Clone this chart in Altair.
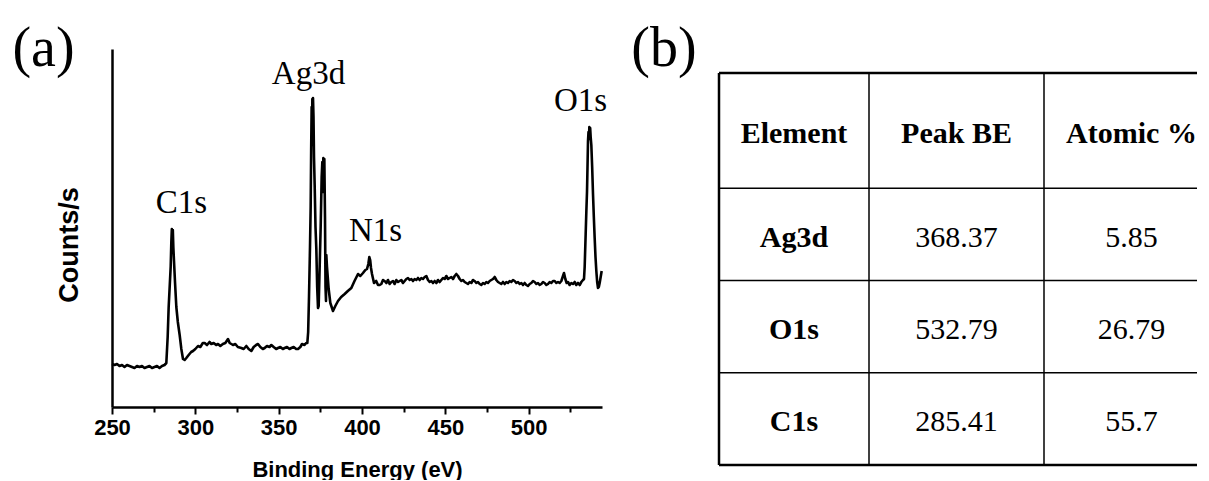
import altair as alt
import pandas as pd

# ---------------- (a) XPS survey spectrum ----------------
energy_ev = [
    250.0, 251.5, 253.0, 254.5, 256.0, 257.5, 259.0, 260.5, 262.0, 263.5,
    265.0, 266.5, 268.0, 269.5, 271.0, 272.5, 274.0, 275.5, 277.0, 278.5,
    280.0, 281.5, 282.6, 283.4, 284.0, 284.6, 285.2, 285.6, 285.9, 286.2,
    286.5, 286.8, 287.2, 287.8, 288.6, 289.5, 290.6, 291.6, 292.6, 293.6,
    294.6, 296.0, 297.5, 298.6, 300.0, 301.6, 303.0, 304.5, 305.6, 307.0,
    308.5, 309.6, 311.0, 312.5, 313.6, 315.0, 316.5, 318.0, 319.6, 320.6,
    322.6, 324.0, 325.5, 327.6, 329.0, 330.6, 332.0, 333.6, 335.0, 336.5,
    337.6, 339.0, 340.5, 341.6, 343.0, 344.5, 345.6, 347.0, 348.5, 349.6,
    351.0, 352.5, 353.6, 355.0, 356.5, 357.6, 359.0, 360.5, 361.6, 363.0,
    364.0, 365.5, 366.5,
    367.2, 367.7, 368.2, 368.8, 369.2, 369.5, 369.8, 370.0, 370.2, 370.4,
    370.6, 370.9, 371.2, 371.6, 372.1, 372.6, 373.1, 373.6, 374.0, 374.6,
    375.2, 375.8, 376.2, 376.5, 376.8, 377.1, 377.4, 377.8, 378.1, 378.4,
    378.6, 379.0, 380.0, 381.0, 382.6,
    384.0, 385.6, 387.5, 389.6, 391.5, 393.6, 395.5, 397.6, 399.0, 400.6,
    402.0, 403.0, 403.8, 404.4, 404.9, 405.4, 406.0, 407.2, 408.5, 409.6,
    410.6, 411.6, 412.6, 413.6, 414.6, 415.6, 416.6, 417.6, 418.6, 419.6,
    420.6, 421.6, 422.6, 423.6, 424.6, 425.6, 426.6, 427.6, 428.6, 429.6,
    430.6, 431.6, 432.6, 433.6, 434.6, 435.6, 436.6, 437.6, 438.6, 439.6,
    440.6, 441.6, 442.6, 443.6, 444.6, 445.6, 446.6, 447.6, 448.6, 449.6,
    450.6, 451.6, 452.6, 453.6, 454.6, 455.6, 456.6, 457.6, 458.6, 459.6,
    460.6, 461.6, 462.6, 463.6, 464.6, 465.6, 466.6, 467.6, 468.6, 469.6,
    470.6, 471.6, 472.6, 473.6, 474.6, 475.6, 476.6, 477.6, 478.6, 479.6,
    480.6, 481.6, 482.6, 483.6, 484.6, 485.6, 486.6, 487.6, 488.6, 489.6,
    490.6, 491.6, 492.6, 493.6, 494.6, 495.6, 496.6, 497.6, 498.6, 499.6,
    500.6, 501.6, 502.6, 503.6, 504.6, 505.6, 506.6, 507.6, 508.6, 509.6,
    510.6, 511.6, 512.6, 513.6, 514.6, 515.6, 516.6, 517.6, 518.6, 519.6,
    520.4, 521.2, 522.0, 522.8, 523.6, 524.6, 525.6, 526.6, 527.6, 528.6,
    529.6, 530.6, 531.6, 532.6, 533.2, 533.6, 534.2, 534.6, 535.0, 535.3,
    535.6, 535.9, 536.2, 536.4, 536.6, 536.9, 537.2, 537.6, 538.1, 538.6,
    539.1, 539.6, 540.1, 540.6, 541.1, 541.6, 542.1, 542.6, 543.2, 543.8,
]
counts = [
    43, 42, 43, 41, 42, 40, 42, 41, 40, 39,
    41, 40, 41, 39, 40, 41, 39, 40, 41, 39,
    41, 42, 44, 70, 100, 120, 140, 165, 178, 168,
    177, 160, 146, 125, 100, 85, 72, 58, 48, 47,
    49, 52, 55, 56, 58, 61, 60, 64, 64, 62,
    65, 63, 64, 62, 63, 61, 63, 64, 68, 64,
    62, 63, 60, 59, 58, 61, 58, 56, 60, 62,
    63, 60, 58, 59, 61, 60, 62, 60, 58, 59,
    60, 58, 59, 60, 58, 59, 60, 58, 58, 60,
    63, 62, 64,
    64, 75, 110, 160, 200, 258, 300, 262, 308, 270,
    309, 290, 250, 222, 180, 158, 120, 99, 101, 140,
    180, 230, 245, 215, 249, 220, 248, 190, 120, 106,
    152, 140, 118, 104, 96,
    101, 106, 110, 113, 116, 119, 126, 133, 131, 134,
    137, 138, 143, 150, 147, 139, 133, 124, 126, 122,
    122, 123, 127, 126, 124, 127, 123, 125, 126, 123,
    127, 125, 126, 127, 124, 126, 128, 129, 127, 128,
    126, 128, 127, 129, 127, 129, 128, 130, 131, 127,
    125, 126, 124, 126, 124, 127, 125, 127, 129, 128,
    131, 128, 129, 130, 128, 131, 133, 131, 128, 126,
    127, 125, 124, 123, 125, 124, 127, 126, 124, 125,
    123, 122, 124, 123, 125, 124, 126, 127, 128, 130,
    127, 125, 124, 123, 125, 123, 125, 124, 126, 125,
    127, 126, 124, 125, 123, 124, 122, 124, 122, 121,
    123, 124, 126, 125, 123, 124, 122, 123, 125, 124,
    122, 123, 125, 124, 126, 126, 124, 125, 124, 126,
    130, 134, 128, 124, 125, 122, 124, 123, 125, 122,
    124, 122, 125, 127, 128, 140, 173, 195, 215, 240,
    266, 275, 268, 280, 272, 279, 270, 262, 240, 213,
    190, 169, 150, 136, 125, 119, 120, 124, 130, 136,
]

peak_names = ["C1s", "Ag3d", "N1s", "O1s"]
peak_label_ev = [291.7, 367.9, 408.1, 531.1]
peak_label_counts = [194, 323, 166, 296]

major_ticks = [250, 300, 350, 400, 450, 500]
minor_ticks = [275, 325, 375, 425, 475, 525]

# panel tags, anchored in each panel's own coordinates
panel_a = {"tag": "(a)", "E": 208.9, "counts": 341}
panel_b = {"tag": "(b)", "cx": -0.367, "cy": -0.076}

# ---------------- (b) table ----------------
table_header = ["Element", "Peak BE", "Atomic %"]
elements = ["Ag3d", "O1s", "C1s"]
peak_be = ["368.37", "532.79", "285.41"]
atomic_pct = ["5.85", "26.79", "55.7"]

# ---------------- build chart ----------------
spec_df = pd.DataFrame({"E": energy_ev, "counts": counts})
lab_df = pd.DataFrame({"name": peak_names, "E": peak_label_ev, "counts": peak_label_counts})

SANS = "Liberation Sans"
SERIF = "Liberation Serif"
PW, PH = 490, 358

x_scale = alt.Scale(domain=[250, 544], nice=False, zero=False)
y_scale = alt.Scale(domain=[0, PH], nice=False, zero=False)

x_axis = alt.Axis(
    values=sorted(major_ticks + minor_ticks),
    labelExpr="datum.value % 50 === 0 ? datum.label : ''",
    tickSize={"condition": {"test": "datum.value % 50 === 0", "value": 7}, "value": 5},
    tickWidth=2, tickColor="black",
    domainWidth=2.5, domainColor="black",
    labelFont=SANS, labelFontWeight="bold", labelFontSize=22, labelColor="black",
    labelPadding=3, labelFlush=False, labelOverlap=False,
    title="Binding Energy (eV)", titleFont=SANS, titleFontWeight="bold",
    titleFontSize=22, titleColor="black",
    titleX=PW / 2, titleY=69, titleBaseline="alphabetic", titleAlign="center",
    grid=False,
)
y_axis = alt.Axis(
    labels=False, ticks=False, grid=False,
    domainWidth=2.5, domainColor="black",
    title="Counts/s", titleFont=SANS, titleFontWeight="bold", titleFontSize=27,
    titleColor="black", titleAngle=270, titleX=-34.5, titleY=195.5,
    titleBaseline="alphabetic", titleAlign="center",
)

line = alt.Chart(spec_df).mark_line(
    color="black", strokeWidth=2.6, strokeJoin="round"
).encode(
    x=alt.X("E:Q", scale=x_scale, axis=x_axis),
    y=alt.Y("counts:Q", scale=y_scale, axis=y_axis),
)
labels = alt.Chart(lab_df).mark_text(
    font=SERIF, fontSize=33, baseline="alphabetic", align="center", color="black"
).encode(
    x=alt.X("E:Q", scale=x_scale),
    y=alt.Y("counts:Q", scale=y_scale),
    text="name:N",
)
tag_a = alt.Chart(pd.DataFrame([panel_a])).mark_text(
    font=SERIF, fontSize=56, baseline="alphabetic", align="center", color="black"
).encode(
    x=alt.X("E:Q", scale=x_scale),
    y=alt.Y("counts:Q", scale=y_scale),
    text="tag:N",
)

left = alt.layer(line, labels, tag_a).properties(width=PW, height=PH)

# table layout (relative units: first column = 1, header row = 1.25)
col_widths = [1.0, 7 / 6, 7 / 6]
row_heights = [1.25, 1.0, 1.0, 1.0]
col_edges = [0.0]
for w in col_widths:
    col_edges.append(col_edges[-1] + w)
row_edges = [0.0]
for h in row_heights:
    row_edges.append(row_edges[-1] + h)
col_centers = [(col_edges[i] + col_edges[i + 1]) / 2 for i in range(3)]
row_centers = [(row_edges[i] + row_edges[i + 1]) / 2 for i in range(4)]

TW, TH = 478, 416
X_END = TW / 150.0
tx_scale = alt.Scale(domain=[0, X_END], nice=False, zero=False)
ty_scale = alt.Scale(domain=[-0.26, row_edges[-1]], nice=False, zero=False, reverse=True)

cells = []
for c, t in enumerate(table_header):
    cells.append({"cx": col_centers[c], "cy": row_centers[0], "txt": t, "bold": True})
for r in range(3):
    cells.append({"cx": col_centers[0], "cy": row_centers[r + 1], "txt": elements[r], "bold": True})
    cells.append({"cx": col_centers[1], "cy": row_centers[r + 1], "txt": peak_be[r], "bold": False})
    cells.append({"cx": col_centers[2], "cy": row_centers[r + 1], "txt": atomic_pct[r], "bold": False})
cells_df = pd.DataFrame(cells)

rules = []
for i, e in enumerate(row_edges):
    outer = i in (0, len(row_edges) - 1)
    rules.append({"x": 0, "x2": X_END, "y": e, "y2": e, "w": 2.3 if outer else 1.5})
for i, e in enumerate(col_edges[:3]):
    rules.append({"x": e, "x2": e, "y": 0, "y2": row_edges[-1], "w": 2.5 if i == 0 else 1.5})
rules_df = pd.DataFrame(rules)

grid = alt.Chart(rules_df).mark_rule(color="black", strokeCap="butt").encode(
    x=alt.X("x:Q", scale=tx_scale, axis=None),
    x2="x2:Q",
    y=alt.Y("y:Q", scale=ty_scale, axis=None),
    y2="y2:Q",
    strokeWidth=alt.StrokeWidth("w:Q", scale=None),
)
bold_txt = alt.Chart(cells_df).transform_filter("datum.bold").mark_text(
    font=SERIF, fontSize=30, fontWeight="bold", align="center",
    baseline="alphabetic", dy=12.5, color="black",
).encode(
    x=alt.X("cx:Q", scale=tx_scale, axis=None),
    y=alt.Y("cy:Q", scale=ty_scale, axis=None),
    text="txt:N",
)
norm_txt = alt.Chart(cells_df).transform_filter("!datum.bold").mark_text(
    font=SERIF, fontSize=30, fontWeight="normal", align="center",
    baseline="alphabetic", dy=12.5, color="black",
).encode(
    x=alt.X("cx:Q", scale=tx_scale, axis=None),
    y=alt.Y("cy:Q", scale=ty_scale, axis=None),
    text="txt:N",
)
tag_b = alt.Chart(pd.DataFrame([panel_b])).mark_text(
    font=SERIF, fontSize=56, baseline="alphabetic", align="center", color="black"
).encode(
    x=alt.X("cx:Q", scale=tx_scale, axis=None),
    y=alt.Y("cy:Q", scale=ty_scale, axis=None),
    text="tag:N",
)

right = alt.layer(grid, bold_txt, norm_txt, tag_b).properties(width=TW, height=TH)

chart = alt.hconcat(left, right, spacing=117, bounds="flush").properties(
    padding={"left": 4, "top": 12, "right": 0, "bottom": 0},
    background="white",
).configure_view(stroke=None)

chart.save("out.html", embed_options={"renderer": "svg", "actions": False})
